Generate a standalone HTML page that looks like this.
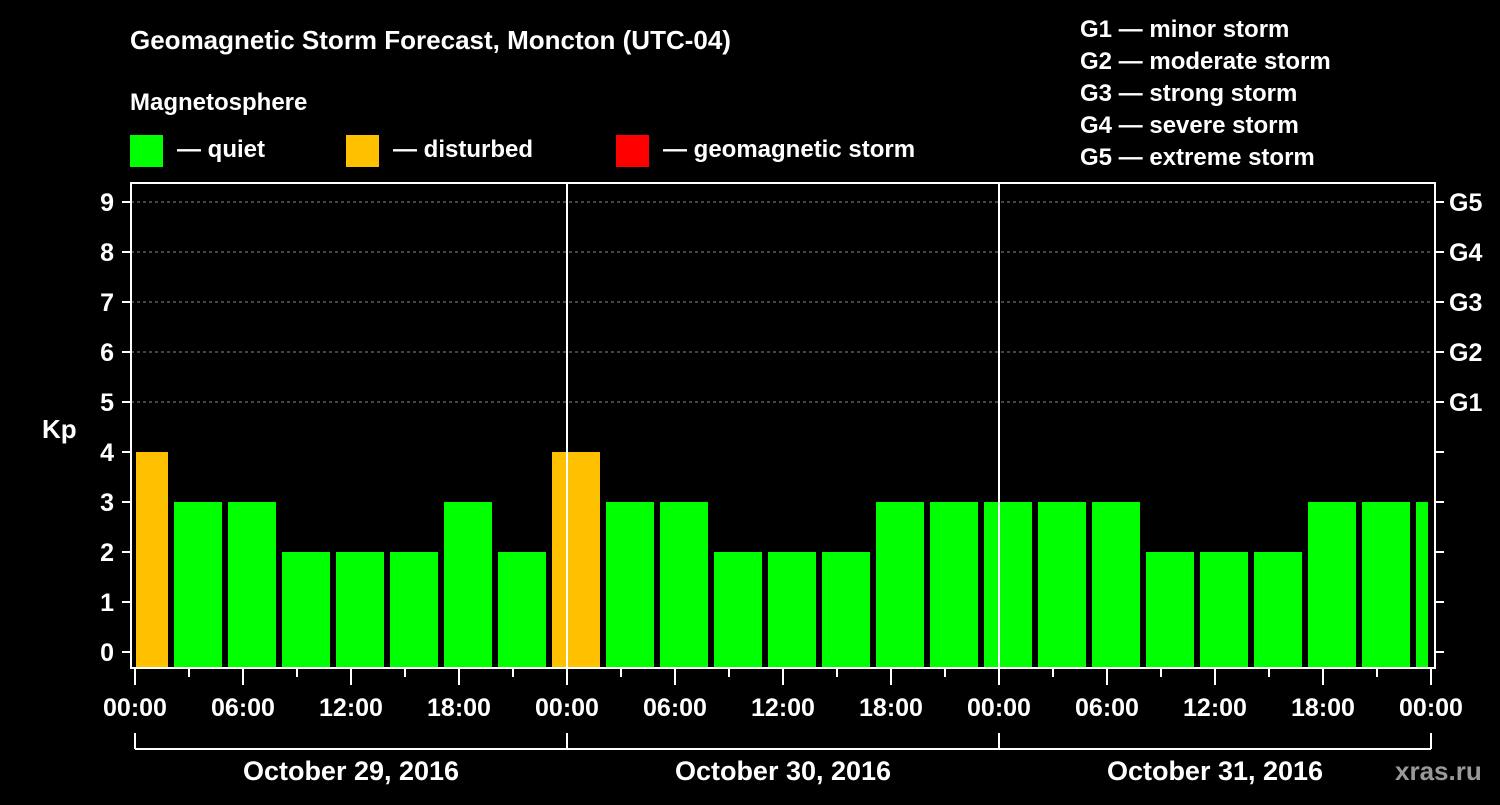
<!DOCTYPE html>
<html><head><meta charset="utf-8"><style>
body{margin:0;background:#000;width:1500px;height:800px;overflow:hidden}
svg text{font-family:"Liberation Sans",Arial,sans-serif;font-weight:bold;fill:#fff}
</style></head><body>
<svg id="c" width="1500" height="800" xmlns="http://www.w3.org/2000/svg">
<text x="130" y="49" font-size="26">Geomagnetic Storm Forecast, Moncton (UTC-04)</text>
<text x="130" y="110" font-size="24">Magnetosphere</text>
<g><rect x="130" y="135" width="33" height="32" fill="#00ff00"/><text x="177" y="157" font-size="24">— quiet</text></g>
<g><rect x="346" y="135" width="33" height="32" fill="#ffc000"/><text x="393" y="157" font-size="24">— disturbed</text></g>
<g><rect x="616" y="135" width="33" height="32" fill="#ff0000"/><text x="663" y="157" font-size="24">— geomagnetic storm</text></g>
<g font-size="24">
<text x="1080" y="37">G1 — minor storm</text><text x="1080" y="69">G2 — moderate storm</text><text x="1080" y="101">G3 — strong storm</text><text x="1080" y="133">G4 — severe storm</text><text x="1080" y="165">G5 — extreme storm</text></g>
<text x="42" y="438" font-size="26">Kp</text>
<text x="1395" y="780" font-size="26" fill="#aaa" style="fill:#999">xras.ru</text>
<g id="plot"></g>
</svg>
<script>
const kpValues=[4,3,3,2,2,2,3,2,4,3,3,2,2,2,3,3,3,3,3,2,2,2,3,3,3];
const slotStartHours=[-1,2,5,8,11,14,17,20,23,26,29,32,35,38,41,44,47,50,53,56,59,62,65,68,71];
const yTicks=[0,1,2,3,4,5,6,7,8,9];
const gLabels=["G1","G2","G3","G4","G5"];
const xTickLabels=["00:00","06:00","12:00","18:00","00:00","06:00","12:00","18:00","00:00","06:00","12:00","18:00","00:00"];
const dayLabels=["October 29, 2016","October 30, 2016","October 31, 2016"];
const X0=131,X1=1430,H0=135,PXH=18,YT=183,YB=668;
const xs=h=>H0+h*PXH;
const ys=v=>652-v*50;
const ns="http://www.w3.org/2000/svg",P=document.getElementById('plot');
function mk(t,a){const e=document.createElementNS(ns,t);for(const k in a)e.setAttribute(k,a[k]);P.appendChild(e);return e;}
// grid
[5,6,7,8,9].forEach(v=>{const l=mk('line',{x1:X0,x2:X1,y1:ys(v),y2:ys(v),stroke:'#888','stroke-dasharray':'3,3','stroke-width':1});

});
// bars
kpValues.forEach((v,i)=>{const a=Math.max(xs(slotStartHours[i])+3,X0+5),b=Math.min(xs(slotStartHours[i]+3)-3,X1-2);
const r=mk('rect',{x:a,y:ys(v),width:b-a,height:YB-1-ys(v),fill:v>=5?'#ff0000':v>=4?'#ffc000':'#00ff00'});

});
// day dividers
[24,48].forEach(h=>{const l=mk('line',{x1:xs(h),x2:xs(h),y1:YT,y2:YB,stroke:'#fff','stroke-width':2});

});
// frame
const f=mk('rect',{x:X0,y:YT,width:X1-X0+5,height:YB-YT,fill:'none',stroke:'#fff','stroke-width':2});


// y ticks
yTicks.forEach(v=>{mk('line',{x1:122,x2:X0,y1:ys(v),y2:ys(v),stroke:'#fff','stroke-width':2});
mk('line',{x1:X1+5,x2:X1+14,y1:ys(v),y2:ys(v),stroke:'#fff','stroke-width':2});
const t=mk('text',{x:114,y:ys(v)+9,'font-size':25,'text-anchor':'end'});t.textContent=v;


if(v>=5){const g=mk('text',{x:1449,y:ys(v)+9,'font-size':25});g.textContent=gLabels[v-5];

}});
// x ticks
for(let h=0;h<=72;h+=3){const maj=h%6==0;mk('line',{x1:xs(h),x2:xs(h),y1:YB,y2:YB+(maj?17:9),stroke:'#fff','stroke-width':2});}
xTickLabels.forEach((s,i)=>{const t=mk('text',{x:xs(i*6),y:716,'font-size':25,'text-anchor':'middle'});t.textContent=s;

});
// day bracket
mk('line',{x1:xs(0),x2:xs(72),y1:749,y2:749,stroke:'#fff','stroke-width':2});
[0,24,48,72].forEach(h=>mk('line',{x1:xs(h),x2:xs(h),y1:733,y2:749,stroke:'#fff','stroke-width':2}));
dayLabels.forEach((s,i)=>{const t=mk('text',{x:xs(i*24+12),y:780,'font-size':27,'text-anchor':'middle'});t.textContent=s;

});
</script>
</body></html>
